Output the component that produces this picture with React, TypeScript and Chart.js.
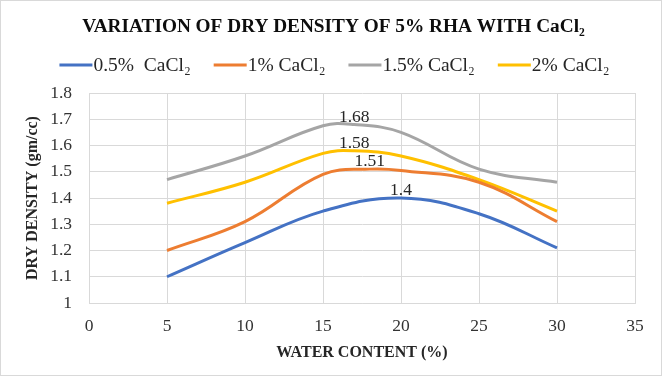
import React, { useEffect, useRef } from "react";
import { Chart, registerables } from "chart.js";

Chart.register(...registerables);

const chartTitle = "VARIATION OF DRY DENSITY OF 5% RHA WITH CaCl\u2082";
const xAxisTitle = "WATER CONTENT (%)";
const yAxisTitle = "DRY DENSITY (gm/cc)";

const seriesNames = ["0.5%  CaCl\u2082", "1% CaCl\u2082", "1.5% CaCl\u2082", "2% CaCl\u2082"];
const seriesColors = ["#4472C4", "#ED7D31", "#A5A5A5", "#FFC000"];

const water05 = [5, 10, 15, 20, 25, 30];
const density05 = [1.1, 1.23, 1.35, 1.4, 1.34, 1.21];
const peak05 = 3;

const water1 = [5, 10, 15, 18, 20, 25, 30];
const density1 = [1.2, 1.31, 1.49, 1.51, 1.505, 1.46, 1.31];
const peak1 = 3;

const water15 = [5, 10, 15, 17, 20, 25, 30];
const density15 = [1.47, 1.56, 1.675, 1.68, 1.65, 1.51, 1.46];
const peak15 = 3;

const water2 = [5, 10, 15, 17, 20, 25, 30];
const density2 = [1.38, 1.46, 1.57, 1.58, 1.56, 1.47, 1.35];
const peak2 = 3;

const xMin = 0;
const xMax = 35;
const xStep = 5;
const yMin = 1;
const yMax = 1.8;
const yStep = 0.1;

const seriesWater = [water05, water1, water15, water2];
const seriesDensity = [density05, density1, density15, density2];
const seriesPeak = [peak05, peak1, peak15, peak2];

const SERIF = "Liberation Serif";

Chart.defaults.font.family = SERIF;

const overlayPlugin = {
  id: "overlay",
  afterDraw(chart: any) {
    const ctx = chart.ctx;
    ctx.save();
    ctx.strokeStyle = "#d9d9d9";
    ctx.lineWidth = 1;
    ctx.strokeRect(0.5, 0.5, chart.width - 2, chart.height - 1);

    ctx.fillStyle = "#0d0d0d";
    ctx.font = 'bold 19.3px "Liberation Serif"';
    ctx.textAlign = "center";
    ctx.textBaseline = "alphabetic";
    ctx.fillText(chartTitle, 333.5, 32);

    ctx.font = '19.5px "Liberation Serif"';
    const lineLen = 33;
    const gapAfterLine = 1;
    const itemGap = 23;
    const widths = chart.data.datasets.map(
      (d: any) => lineLen + gapAfterLine + ctx.measureText(d.label).width
    );
    const total = widths.reduce((a: number, b: number) => a + b, 0) + itemGap * (widths.length - 1);
    let x = 334.5 - total / 2;
    ctx.textAlign = "left";
    chart.data.datasets.forEach((d: any, i: number) => {
      ctx.strokeStyle = d.borderColor;
      ctx.lineWidth = 3;
      ctx.beginPath();
      ctx.moveTo(x, 65);
      ctx.lineTo(x + lineLen, 65);
      ctx.stroke();
      ctx.fillStyle = "#262626";
      ctx.fillText(d.label, x + lineLen + gapAfterLine, 71);
      x += widths[i] + itemGap;
    });

    ctx.font = '17.5px "Liberation Serif"';
    ctx.textAlign = "center";
    ctx.fillStyle = "#262626";
    chart.data.datasets.forEach((d: any, i: number) => {
      const meta = chart.getDatasetMeta(i);
      const idx = seriesPeak[i];
      const el = meta.data[idx];
      if (!el) return;
      ctx.fillText(String(d.data[idx].y), el.x, el.y - 3);
    });
    ctx.restore();
  },
};

export default function App() {
  const canvasRef = useRef<HTMLCanvasElement | null>(null);

  useEffect(() => {
    document.body.style.margin = "0";
    const canvas = canvasRef.current;
    if (!canvas) return;
    const datasets = seriesNames.map((name, i) => ({
      label: name,
      data: seriesWater[i].map((w, j) => ({ x: w, y: seriesDensity[i][j] })),
      borderColor: seriesColors[i],
      backgroundColor: seriesColors[i],
      borderWidth: 3,
      pointRadius: 0,
      tension: 0.4,
      fill: false,
    }));
    const chart = new Chart(canvas, {
      type: "line",
      data: { datasets },
      plugins: [overlayPlugin],
      options: {
        animation: false,
        responsive: true,
        maintainAspectRatio: false,
        layout: { padding: { top: 93, right: 28, left: 0, bottom: 0 } },
        plugins: {
          legend: { display: false },
          title: { display: false },
          tooltip: { enabled: false },
        },
        scales: {
          x: {
            type: "linear",
            min: xMin,
            max: xMax,
            afterFit: (s: any) => {
              s.height = 73;
            },
            ticks: {
              stepSize: xStep,
              padding: 13,
              color: "#333333",
              font: { family: SERIF, size: 17.5 },
              maxRotation: 0,
            },
            grid: { color: "#d9d9d9", lineWidth: 1, drawTicks: false },
            border: { display: true, color: "#d9d9d9" },
            title: {
              display: true,
              text: xAxisTitle,
              color: "#262626",
              font: { family: SERIF, size: 16, weight: "bold" },
              padding: { top: 0, bottom: 14 },
            },
          },
          y: {
            type: "linear",
            min: yMin,
            max: yMax,
            afterFit: (s: any) => {
              s.width = 89;
            },
            ticks: {
              stepSize: yStep,
              padding: 17,
              color: "#333333",
              font: { family: SERIF, size: 17.5 },
              callback: (v: any) => String(Math.round(Number(v) * 10) / 10),
            },
            grid: { color: "#d9d9d9", lineWidth: 1, drawTicks: false },
            border: { display: true, color: "#d9d9d9" },
            title: {
              display: true,
              text: yAxisTitle,
              color: "#262626",
              font: { family: SERIF, size: 16, weight: "bold" },
              padding: { top: 23, bottom: 0 },
            },
          },
        },
      },
    });
    return () => {
      chart.destroy();
    };
  }, []);

  return (
    <div style={{ position: "fixed", left: 0, top: 0, width: 663, height: 376, background: "#ffffff" }}>
      <canvas ref={canvasRef} />
    </div>
  );
}
